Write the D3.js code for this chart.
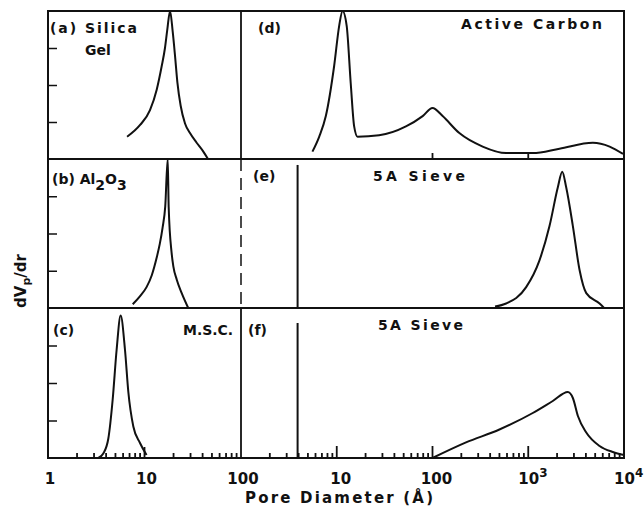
<!DOCTYPE html>
<html>
<head>
<meta charset="utf-8">
<script src="https://cdn.jsdelivr.net/npm/d3@7"></script>
<style>
  body { margin: 0; background: #fff; }
  text { font-family: "DejaVu Sans", sans-serif; fill: #111; font-weight: bold; }
</style>
</head>
<body>
<div id="chart"></div>
<script>
// pore diameter (Å) vs relative dVp/dr (0..1 of panel height)
const silicaGel = [[6.6,0.15],[9.0,0.23],[11.4,0.33],[13.4,0.47],[15.1,0.63],[16.3,0.75],[17.2,0.87],[18.4,1.0],
  [19.6,0.86],[20.7,0.70],[21.9,0.52],[23.7,0.36],[26.3,0.24],[29.6,0.175],[34.7,0.11],[40.7,0.05],[45.5,0.0]];
const alumina = [[7.55,0.025],[9.0,0.08],[10.5,0.14],[11.9,0.22],[13.4,0.34],[14.4,0.43],[15.4,0.54],[16.4,0.68],[17.4,1.0],
  [17.8,0.68],[19.1,0.37],[19.9,0.28],[21.6,0.19],[24.3,0.10],[28.4,0.0]];
const msc = [[3.32,0.0],[3.74,0.03],[4.22,0.13],[4.68,0.39],[5.14,0.72],[5.66,0.95],[6.28,0.72],[6.8,0.44],
  [7.66,0.21],[8.98,0.10],[10.5,0.02]];
const activeCarbon = [[5.57,0.05],[6.55,0.15],[7.69,0.29],[9.4,0.63],[10.6,0.9],[11.5,1.0],[12.7,0.9],[14.0,0.51],
  [15.2,0.22],[16.5,0.15],[27.7,0.16],[52.8,0.22],[78.9,0.29],[100,0.345],[127.6,0.29],[190.7,0.175],[334,0.084],
  [587,0.04],[1115,0.04],[2118,0.07],[4730,0.11],[7080,0.084],[9770,0.034]];
const sieveE = [[450,0.01],[587,0.03],[951,0.14],[1310,0.32],[1667,0.55],[2037,0.81],[2264,0.915],[2490,0.81],
  [2924,0.55],[3435,0.255],[4035,0.10],[5560,0.03],[6200,0.0]];
const spikeE = [[3.9,0.0],[3.9,0.96]];
const sieveF = [[100,0.0],[224,0.104],[500,0.19],[1115,0.30],[1804,0.38],[2588,0.44],[2924,0.40],[3300,0.28],
  [4035,0.17],[5560,0.08],[7650,0.04],[10000,0.02]];
const spikeF = [[3.9,0.0],[3.9,0.9]];

const leftLabels = [1, 10, 100];
const rightLabels = [10, 100, 1000, 10000];

const width = 644, height = 510;
const box = { left: 48, mid: 241, right: 624, top: 11, bottom: 458 };
const rowEdges = [11, 159, 308, 458];

const svg = d3.select("#chart").append("svg")
  .attr("width", width).attr("height", height);
svg.append("rect").attr("width", width).attr("height", height).attr("fill", "#fff");

const xL = d3.scaleLog().domain([1, 100]).range([box.left, box.mid]);
const xR = d3.scaleLog().domain([1, 1e4]).range([box.mid, box.right]);
const yRow = i => d3.scaleLinear().domain([0, 1]).range([rowEdges[i + 1], rowEdges[i]]);

// frame
const frame = svg.append("g").attr("stroke", "#111").attr("fill", "none");
frame.append("rect")
  .attr("x", box.left).attr("y", box.top)
  .attr("width", box.right - box.left).attr("height", box.bottom - box.top)
  .attr("stroke-width", 2);
[rowEdges[1], rowEdges[2]].forEach(y => {
  frame.append("line").attr("x1", box.left).attr("x2", box.right)
    .attr("y1", y).attr("y2", y).attr("stroke-width", 1.8);
});
// column divider (dashed in middle row)
frame.append("line").attr("x1", box.mid).attr("x2", box.mid)
  .attr("y1", rowEdges[0]).attr("y2", rowEdges[1]).attr("stroke-width", 1.8);
frame.append("line").attr("x1", box.mid).attr("x2", box.mid)
  .attr("y1", rowEdges[1]).attr("y2", rowEdges[2]).attr("stroke-width", 1.5)
  .attr("stroke-dasharray", "12,7");
frame.append("line").attr("x1", box.mid).attr("x2", box.mid)
  .attr("y1", rowEdges[2]).attr("y2", rowEdges[3]).attr("stroke-width", 1.8);

// left axis ticks, 3 per row
for (let i = 0; i < 3; i++) {
  const y = yRow(i);
  const g = svg.append("g").attr("transform", `translate(${box.left},0)`)
    .call(d3.axisRight(y).tickValues([0.25, 0.5, 0.75]).tickSize(9).tickFormat(""));
  g.select(".domain").remove();
  g.selectAll("line").attr("stroke", "#111").attr("stroke-width", 1.5);
}

// bottom log ticks pointing inward
function minor(lo, hi) {
  const out = [];
  for (let d = lo; d < hi; d *= 10) for (let k = 2; k <= 9; k++) out.push(d * k);
  return out;
}
function upTicks(x, vals, size, base) {
  svg.append("g").selectAll("line")
    .data(vals)
    .join("line")
    .attr("x1", d => x(d)).attr("x2", d => x(d))
    .attr("y1", base).attr("y2", base - size)
    .attr("stroke", "#111").attr("stroke-width", 1.8);
}
upTicks(xL, minor(1, 100), 5, box.bottom);
upTicks(xL, [10], 11, box.bottom);
upTicks(xR, minor(1, 1e4), 5, box.bottom);
upTicks(xR, [10, 100, 1000], 12, box.bottom);
// small ticks on the top row's base (d)
upTicks(xR, [100, 1000], 6, rowEdges[1]);

// curves
function drawCurve(data, x, row, curve) {
  const y = yRow(row);
  svg.append("path")
    .datum(data)
    .attr("fill", "none")
    .attr("stroke", "#111")
    .attr("stroke-width", 2)
    .attr("stroke-linejoin", "round")
    .attr("d", d3.line().x(d => x(d[0])).y(d => y(d[1])).curve(curve || d3.curveMonotoneX));
}
drawCurve(silicaGel, xL, 0);
drawCurve(alumina, xL, 1);
drawCurve(msc, xL, 2);
drawCurve(activeCarbon, xR, 0);
drawCurve(sieveE, xR, 1);
drawCurve(spikeE, xR, 1, d3.curveLinear);
drawCurve(sieveF, xR, 2);
drawCurve(spikeF, xR, 2, d3.curveLinear);

// bottom tick labels
const lab = svg.append("g").attr("font-size", 15).attr("text-anchor", "middle");
leftLabels.forEach(v => {
  lab.append("text").attr("x", xL(v) + 2).attr("y", 484).text(v);
});
rightLabels.forEach(v => {
  if (v < 1000) {
    lab.append("text").attr("x", xR(v) + 4).attr("y", 484).text(v);
  } else {
    const t = lab.append("text").attr("x", xR(v) - 10).attr("y", 484).attr("text-anchor", "start");
    t.append("tspan").text("10");
    t.append("tspan").attr("dy", -7).attr("font-size", 12).text(Math.log10(v));
  }
});

// axis titles
svg.append("text")
  .attr("x", 245).attr("y", 503)
  .attr("font-size", 15)
  .attr("textLength", 188).attr("lengthAdjust", "spacing")
  .text("Pore  Diameter (Å)");

const yt = svg.append("text")
  .attr("transform", "translate(26,281) rotate(-90)")
  .attr("text-anchor", "middle")
  .attr("font-size", 15);
yt.append("tspan").text("dV");
yt.append("tspan").attr("dy", 4).attr("font-size", 11).text("p");
yt.append("tspan").attr("dy", -4).text("/dr");

// panel labels
const pl = svg.append("g").attr("font-size", 14);
pl.append("text").attr("x", 50).attr("y", 33).attr("textLength", 87).attr("lengthAdjust", "spacing").text("(a) Silica");
pl.append("text").attr("x", 85).attr("y", 55).text("Gel");
pl.append("text").attr("x", 258).attr("y", 33).text("(d)");
pl.append("text").attr("x", 461).attr("y", 29).attr("textLength", 141).attr("lengthAdjust", "spacing").text("Active Carbon");

const al = pl.append("text").attr("x", 52).attr("y", 184);
al.append("tspan").text("(b) Al");
al.append("tspan").attr("dy", 6).text("2");
al.append("tspan").attr("dy", -6).text("O");
al.append("tspan").attr("dy", 6).text("3");

pl.append("text").attr("x", 253).attr("y", 181).text("(e)");
pl.append("text").attr("x", 373).attr("y", 181).attr("textLength", 92).attr("lengthAdjust", "spacing").text("5A Sieve");

pl.append("text").attr("x", 53).attr("y", 335).text("(c)");
pl.append("text").attr("x", 183).attr("y", 335).attr("textLength", 50).attr("lengthAdjust", "spacing").text("M.S.C.");
pl.append("text").attr("x", 248).attr("y", 335).text("(f)");
pl.append("text").attr("x", 378).attr("y", 330).attr("textLength", 85).attr("lengthAdjust", "spacing").text("5A Sieve");
</script>
</body>
</html>
